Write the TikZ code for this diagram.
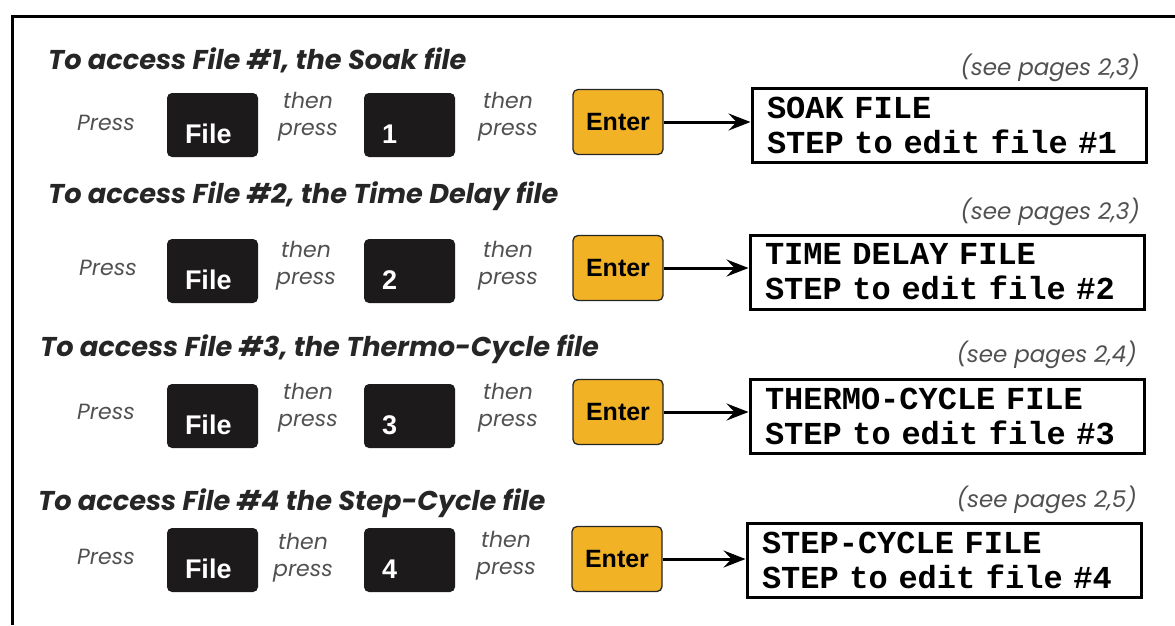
\documentclass[tikz,border=0pt]{standalone}
\usepackage{fontspec}
\setmainfont{Poppins}
\newfontfamily\keyfont{Liberation Sans}
\newfontfamily\lcdfont{Liberation Mono}
\usetikzlibrary{arrows.meta,positioning}
\definecolor{enterorange}{RGB}{242,178,38}
\definecolor{keyblack}{RGB}{28,26,27}
\definecolor{softgray}{RGB}{80,80,80}
\newcommand{\thenpress}{then\\press}

\begin{document}
\begin{tikzpicture}[x=1pt,y=-1pt,>={Stealth[length=22pt,width=17pt,inset=8pt]},
  heading/.style={anchor=west,inner sep=0pt,text=black!85,font=\fontsize{27.2}{29}\selectfont\bfseries\itshape},
  pages/.style={anchor=east,inner sep=0pt,text=softgray,font=\fontsize{23}{25}\selectfont\itshape},
  hint/.style={align=center,inner sep=0pt,text=softgray,font=\fontsize{22}{27}\selectfont\itshape},
  keybox/.style={fill=keyblack,rounded corners=5pt,minimum width=91pt,minimum height=64pt,
    inner xsep=18pt,text width=55pt,align=left,text height=40pt,text depth=4pt,
    text=white,font=\keyfont\fontsize{27}{27}\selectfont\bfseries},
  enterbox/.style={draw=black!85,line width=1.3pt,fill=enterorange,rounded corners=5pt,
    minimum width=90pt,minimum height=65pt,font=\keyfont\fontsize{25}{25}\selectfont\bfseries},
  lcdbox/.style={draw,line width=3pt,minimum width=394pt,minimum height=74pt,
    inner xsep=15pt,text width=364pt,align=left,font=\lcdfont\fontsize{32}{35}\selectfont\bfseries},
  link/.style={->,line width=3pt}]
  \useasboundingbox (0,0) rectangle (1175,625);
  \draw[line width=3pt] (12,625) -- (12,16) -- (1175,16);

  % soak file
  \node[heading] (head1) at (48,60) {To access File \#1, the Soak file};
  \node[pages] (pages1) at (1140,68) {(see pages 2,3)};
  \node[hint] (press1) at (106,123) {Press};
  \node[keybox] (file1) at (212.5,125) {File};
  \node[hint] (then1a) at (308,117) {\thenpress};
  \node[keybox] (num1) at (409.5,125) {1};
  \node[hint] (then1b) at (508,117) {\thenpress};
  \node[enterbox] (enter1) at (618,122) {Enter};
  \node[lcdbox] (lcd1) at (949,125) {SOAK FILE\\STEP to edit file \#1};
  \draw[link] (enter1.east) -- (enter1.east -| lcd1.west);

  % time delay file
  \node[heading] (head2) at (48,196) {To access File \#2, the Time Delay file};
  \node[pages] (pages2) at (1140,212) {(see pages 2,3)};
  \node[hint] (press2) at (108,268) {Press};
  \node[keybox] (file2) at (212.5,271) {File};
  \node[hint] (then2a) at (306,266) {\thenpress};
  \node[keybox] (num2) at (409.5,271) {2};
  \node[hint] (then2b) at (508,266) {\thenpress};
  \node[enterbox] (enter2) at (618,268) {Enter};
  \node[lcdbox] (lcd2) at (947,272) {TIME DELAY FILE\\STEP to edit file \#2};
  \draw[link] (enter2.east) -- (enter2.east -| lcd2.west);

  % thermo-cycle file
  \node[heading] (head3) at (40,349) {To access File \#3, the Thermo-Cycle file};
  \node[pages] (pages3) at (1137,355) {(see pages 2,4)};
  \node[hint] (press3) at (106,412) {Press};
  \node[keybox] (file3) at (212.5,416) {File};
  \node[hint] (then3a) at (308,408) {\thenpress};
  \node[keybox] (num3) at (409.5,416) {3};
  \node[hint] (then3b) at (508,408) {\thenpress};
  \node[enterbox] (enter3) at (618,412) {Enter};
  \node[lcdbox] (lcd3) at (947,416) {THERMO-CYCLE FILE\\STEP to edit file \#3};
  \draw[link] (enter3.east) -- (enter3.east -| lcd3.west);

  % step-cycle file
  \node[heading] (head4) at (38,503) {To access File \#4 the Step-Cycle file};
  \node[pages] (pages4) at (1137,500) {(see pages 2,5)};
  \node[hint] (press4) at (106,557) {Press};
  \node[keybox] (file4) at (212.5,560) {File};
  \node[hint] (then4a) at (303,558) {\thenpress};
  \node[keybox] (num4) at (409.5,560) {4};
  \node[hint] (then4b) at (506,556) {\thenpress};
  \node[enterbox] (enter4) at (617,559) {Enter};
  \node[lcdbox] (lcd4) at (944,560) {STEP-CYCLE FILE\\STEP to edit file \#4};
  \draw[link] (enter4.east) -- (enter4.east -| lcd4.west);
\end{tikzpicture}
\end{document}
